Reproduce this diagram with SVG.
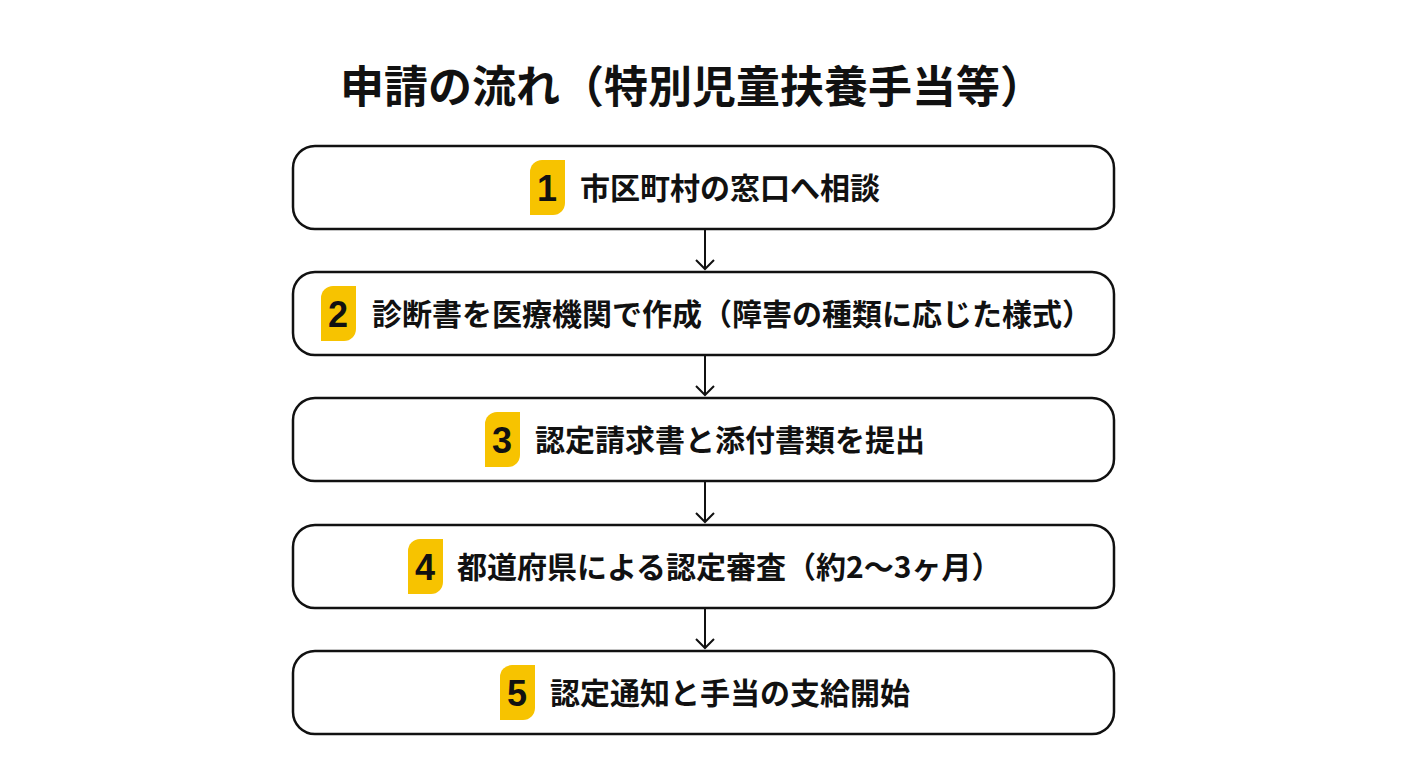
<svg xmlns="http://www.w3.org/2000/svg" width="1408" height="768" viewBox="0 0 1408 768">
<defs>
<style>
.box{fill:#fff;stroke:#111;stroke-width:2.5}
.badge{fill:#F7C300}
.num{font-family:"Liberation Sans",sans-serif;font-weight:bold;font-size:36px;fill:#111;text-anchor:middle}
.t{font-family:"Noto Sans CJK JP",sans-serif;font-weight:bold;font-size:30px;fill:#111}
.title{font-family:"Noto Sans CJK JP",sans-serif;font-weight:bold;font-size:44px;fill:#111}
.c{stroke:#111;stroke-width:2;fill:none}
</style>
</defs>
<rect width="1408" height="768" fill="#fff"/>
<text class="title" x="340" y="103">申請の流れ（特別児童扶養手当等）</text>
<g id="connectors">
<path class="c" d="M705,230 V269 M696,260 L705,269 L714,260"/>
<path class="c" d="M705,356 V395 M696,386 L705,395 L714,386"/>
<path class="c" d="M705,482 V522 M696,513 L705,522 L714,513"/>
<path class="c" d="M705,609 V648 M696,639 L705,648 L714,639"/>
</g>
<g id="n1"><rect class="box" x="293" y="146" width="821" height="83" rx="22"/>
<path class="badge" d="M542,160 H565 V203 A12,12 0 0 1 553,215 H530 V172 A12,12 0 0 1 542,160 Z"/>
<text class="num" x="547" y="201">1</text><text class="t" x="580" y="199">市区町村の窓口へ相談</text></g>
<g id="n2"><rect class="box" x="293" y="272" width="821" height="83" rx="22"/>
<path class="badge" d="M333,286 H356 V329 A12,12 0 0 1 344,341 H321 V298 A12,12 0 0 1 333,286 Z"/>
<text class="num" x="338" y="327">2</text><text class="t" x="372" y="325">診断書を医療機関で作成（障害の種類に応じた様式）</text></g>
<g id="n3"><rect class="box" x="293" y="398" width="821" height="83" rx="22"/>
<path class="badge" d="M497,412 H520 V455 A12,12 0 0 1 508,467 H485 V424 A12,12 0 0 1 497,412 Z"/>
<text class="num" x="502" y="453">3</text><text class="t" x="535" y="451">認定請求書と添付書類を提出</text></g>
<g id="n4"><rect class="box" x="293" y="525" width="821" height="83" rx="22"/>
<path class="badge" d="M420,539 H443 V582 A12,12 0 0 1 431,594 H408 V551 A12,12 0 0 1 420,539 Z"/>
<text class="num" x="425" y="580">4</text><text class="t" x="457" y="578">都道府県による認定審査（約2〜3ヶ月）</text></g>
<g id="n5"><rect class="box" x="293" y="651" width="821" height="83" rx="22"/>
<path class="badge" d="M512,665 H535 V708 A12,12 0 0 1 523,720 H500 V677 A12,12 0 0 1 512,665 Z"/>
<text class="num" x="517" y="706">5</text><text class="t" x="550" y="704">認定通知と手当の支給開始</text></g>
</svg>
